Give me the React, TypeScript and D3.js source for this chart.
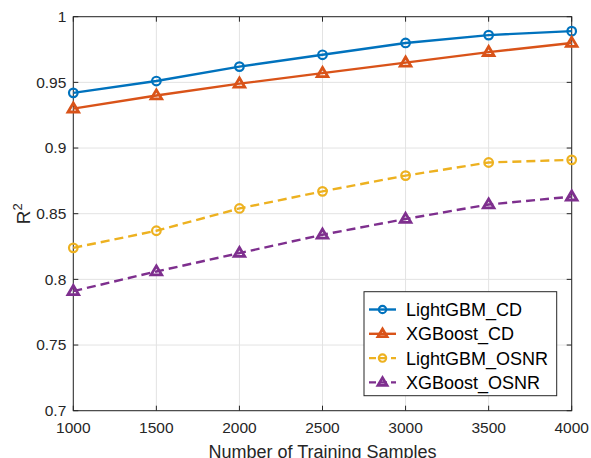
import React, { useRef, useEffect } from "react";
import * as d3 from "d3";

// x categories (number of training samples)
const samples = [1000, 1500, 2000, 2500, 3000, 3500, 4000];

// R^2 values
const lightgbmCD = [0.942, 0.951, 0.962, 0.971, 0.98, 0.986, 0.989];
const xgboostCD = [0.93, 0.94, 0.949, 0.957, 0.965, 0.973, 0.98];
const lightgbmOSNR = [0.824, 0.837, 0.854, 0.867, 0.879, 0.889, 0.891];
const xgboostOSNR = [0.791, 0.806, 0.82, 0.834, 0.846, 0.857, 0.863];

const xTicks = [1000, 1500, 2000, 2500, 3000, 3500, 4000];
const yTicks = [0.7, 0.75, 0.8, 0.85, 0.9, 0.95, 1];

const seriesNames = ["LightGBM_CD", "XGBoost_CD", "LightGBM_OSNR", "XGBoost_OSNR"];
const seriesValues = [lightgbmCD, xgboostCD, lightgbmOSNR, xgboostOSNR];
const seriesColors = ["#0072BD", "#D95319", "#EDB120", "#7E2F8E"];
const seriesMarkers = ["circle", "triangle", "circle", "triangle"];
const seriesDashed = [false, false, true, true];

const App = () => {
  const svgRef = useRef(null);

  useEffect(() => {
    const svg = d3.select(svgRef.current);
    svg.selectAll("*").remove();

    const W = 591;
    const H = 458;
    const left = 73.3;
    const right = 571.7;
    const top = 16.7;
    const bottom = 410.7;
    const font = "Liberation Sans, Arial, Helvetica, sans-serif";
    const axisColor = "#262626";

    svg.attr("width", W).attr("height", H).style("font-family", font);
    svg.append("rect").attr("width", W).attr("height", H).attr("fill", "#fff");

    const x = d3.scaleLinear().domain([1000, 4000]).range([left, right]);
    const y = d3.scaleLinear().domain([0.7, 1]).range([bottom, top]);

    // grid
    const grid = svg.append("g").attr("stroke", "#e3e3e3").attr("stroke-width", 1);
    xTicks.forEach((t) => {
      grid.append("line").attr("x1", x(t)).attr("x2", x(t)).attr("y1", top).attr("y2", bottom);
    });
    yTicks.forEach((t) => {
      grid.append("line").attr("x1", left).attr("x2", right).attr("y1", y(t)).attr("y2", y(t));
    });

    // axes box with inward ticks on all sides
    const tickLen = 5;
    const axisG = svg.append("g").attr("stroke", axisColor).attr("stroke-width", 1);
    axisG
      .append("rect")
      .attr("x", left)
      .attr("y", top)
      .attr("width", right - left)
      .attr("height", bottom - top)
      .attr("fill", "none");
    xTicks.forEach((t) => {
      axisG.append("line").attr("x1", x(t)).attr("x2", x(t)).attr("y1", bottom).attr("y2", bottom - tickLen);
      axisG.append("line").attr("x1", x(t)).attr("x2", x(t)).attr("y1", top).attr("y2", top + tickLen);
    });
    yTicks.forEach((t) => {
      axisG.append("line").attr("x1", left).attr("x2", left + tickLen).attr("y1", y(t)).attr("y2", y(t));
      axisG.append("line").attr("x1", right).attr("x2", right - tickLen).attr("y1", y(t)).attr("y2", y(t));
    });

    // tick labels
    svg
      .append("g")
      .selectAll("text")
      .data(xTicks)
      .enter()
      .append("text")
      .attr("x", (d) => x(d))
      .attr("y", 433)
      .attr("text-anchor", "middle")
      .attr("font-size", 15.5)
      .attr("fill", axisColor)
      .text((d) => d);

    svg
      .append("g")
      .selectAll("text")
      .data(yTicks)
      .enter()
      .append("text")
      .attr("x", left - 7)
      .attr("y", (d) => y(d))
      .attr("dy", "0.35em")
      .attr("text-anchor", "end")
      .attr("font-size", 15.5)
      .attr("fill", axisColor)
      .text((d) => d3.format("~g")(d));

    // axis labels (bottom one sits partly past the edge, as in the figure)
    svg
      .append("text")
      .attr("x", (left + right) / 2)
      .attr("y", 458)
      .attr("text-anchor", "middle")
      .attr("font-size", 18)
      .attr("fill", axisColor)
      .text("Number of Training Samples");

    const yl = svg
      .append("text")
      .attr("transform", `translate(30, ${(top + bottom) / 2}) rotate(-90)`)
      .attr("text-anchor", "middle")
      .attr("font-size", 19)
      .attr("fill", axisColor);
    yl.append("tspan").text("R");
    yl.append("tspan").attr("font-size", 13).attr("dy", -8).text("2");

    const drawMarker = (g, kind, cx, cy, color, s) => {
      if (kind === "circle") {
        g.append("circle")
          .attr("cx", cx)
          .attr("cy", cy)
          .attr("r", 4.3 * s)
          .attr("fill", "none")
          .attr("stroke", color)
          .attr("stroke-width", 2.2);
      } else {
        const r = 5.6 * s;
        const pts = [
          [cx, cy - r],
          [cx + r * 0.95, cy + r * 0.6],
          [cx - r * 0.95, cy + r * 0.6],
        ];
        g.append("path")
          .attr("d", d3.line()(pts) + "Z")
          .attr("fill", "none")
          .attr("stroke", color)
          .attr("stroke-width", 2.8)
          .attr("stroke-linejoin", "miter");
      }
    };

    // series
    const line = d3
      .line()
      .x((d, i) => x(samples[i]))
      .y((d) => y(d));

    seriesValues.forEach((vals, k) => {
      const g = svg.append("g");
      g.append("path")
        .datum(vals)
        .attr("d", line)
        .attr("fill", "none")
        .attr("stroke", seriesColors[k])
        .attr("stroke-width", 2.4)
        .attr("stroke-dasharray", seriesDashed[k] ? "9,5" : null);
      vals.forEach((v, i) => {
        drawMarker(g, seriesMarkers[k], x(samples[i]), y(v), seriesColors[k], 1);
      });
    });

    // legend
    const lg = svg.append("g");
    lg.append("rect")
      .attr("x", 364)
      .attr("y", 291.7)
      .attr("width", 192.7)
      .attr("height", 104)
      .attr("fill", "#fff")
      .attr("stroke", axisColor)
      .attr("stroke-width", 1);
    seriesNames.forEach((name, k) => {
      const cy = 309.5 + k * 24.3;
      lg.append("line")
        .attr("x1", 369)
        .attr("x2", 396)
        .attr("y1", cy)
        .attr("y2", cy)
        .attr("stroke", seriesColors[k])
        .attr("stroke-width", 2.4)
        .attr("stroke-dasharray", seriesDashed[k] ? "7,4" : null);
      drawMarker(lg, seriesMarkers[k], 382.5, cy, seriesColors[k], 0.85);
      lg.append("text")
        .attr("x", 406)
        .attr("y", cy + 6.5)
        .attr("font-size", 18)
        .attr("fill", "#000")
        .text(name);
    });
  }, []);

  return (
    <svg
      ref={svgRef}
      width={591}
      height={458}
      style={{ position: "absolute", left: 0, top: 0 }}
    ></svg>
  );
};

export default App;
